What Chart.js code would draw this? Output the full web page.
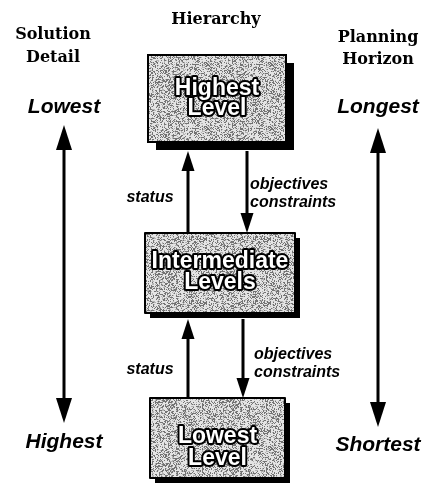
<!DOCTYPE html>
<html lang="en">
<head>
    <meta charset="UTF-8">
    <title>Hierarchy</title>
    <script src="https://cdn.jsdelivr.net/npm/chart.js"></script>
    <style>
        body { margin: 0; background: #fff; }
        .wrap { width: 424px; height: 493px; }
    </style>
</head>
<body>
    <div class="wrap"><canvas id="chart"></canvas></div>

    <script>
        // diagram content
        const headers = [["Solution", "Detail"], ["Hierarchy"], ["Planning", "Horizon"]];
        const levelNames = [["Highest", "Level"], ["Intermediate", "Levels"], ["Lowest", "Level"]];
        const detailEnds = ["Lowest", "Highest"];
        const horizonEnds = ["Longest", "Shortest"];
        const upLabel = ["status"];
        const downLabel = ["objectives", "constraints"];

        // layout in page units (x: 0-424, y: 0-493 downwards)
        const headerPos = [[53, [35, 58]], [216, [20]], [378, [38, 60]]];
        const boxPos = [
            { x0: 148, y0: 55, x1: 286, y1: 142, sh: 8, ty: [89, 109] },
            { x0: 145, y0: 233, x1: 295, y1: 313, sh: 5, ty: [262, 283] },
            { x0: 150, y0: 398, x1: 285, y1: 478, sh: 5, ty: [437, 459] }
        ];
        const sideArrows = [
            { x: 64, top: 125, bottom: 423, labels: [107, 442] },
            { x: 378, top: 128, bottom: 427, labels: [107, 445] }
        ];
        const linkArrows = [
            { up: 188, down: 247, y0: 151, y1: 233, status: [150, 198], obj: [250, 185, 203] },
            { up: 188, down: 243, y0: 319, y1: 398, status: [150, 370], obj: [254, 355, 373] }
        ];

        // speckled grey fill like the scanned boxes
        function makeTexture(ctx) {
            const c = document.createElement("canvas");
            c.width = 64; c.height = 64;
            const g = c.getContext("2d");
            const img = g.createImageData(64, 64);
            for (let j = 0; j < 64; j++) {
                for (let i = 0; i < 64; i++) {
                    const h = ((i * 374761393 + j * 668265263) ^ (i * j * 2246822519)) >>> 0;
                    const v = ((h ^ (h >>> 13)) * 1274126177 >>> 0) % 100;
                    const k = (j * 64 + i) * 4;
                    const shade = v < 26 ? 115 : (v < 44 ? 180 : 228);
                    img.data[k] = img.data[k + 1] = img.data[k + 2] = shade;
                    img.data[k + 3] = 255;
                }
            }
            g.putImageData(img, 0, 0);
            return ctx.createPattern(c, "repeat");
        }

        function arrowHead(ctx, x, tip, dir, len, w) {
            ctx.beginPath();
            ctx.moveTo(x, tip);
            ctx.lineTo(x - w / 2, tip + dir * len);
            ctx.lineTo(x + w / 2, tip + dir * len);
            ctx.closePath();
            ctx.fill();
        }

        const diagram = {
            id: "diagram",
            afterDraw(chart) {
                const ctx = chart.ctx;
                const X = v => chart.scales.x.getPixelForValue(v);
                const Y = v => chart.scales.y.getPixelForValue(v);
                ctx.save();
                ctx.fillStyle = "#000";
                ctx.strokeStyle = "#000";
                ctx.textAlign = "center";
                ctx.textBaseline = "middle";

                // column headers
                ctx.font = "bold 16px 'DejaVu Serif'";
                headers.forEach((lines, i) => {
                    lines.forEach((t, k) => ctx.fillText(t, X(headerPos[i][0]), Y(headerPos[i][1][k])));
                });

                // long double arrows on both sides
                sideArrows.forEach((a, i) => {
                    ctx.fillRect(X(a.x) - 1.5, Y(a.top) + 20, 3, Y(a.bottom) - Y(a.top) - 40);
                    arrowHead(ctx, X(a.x), Y(a.top), 1, 25, 16);
                    arrowHead(ctx, X(a.x), Y(a.bottom), -1, 25, 16);
                    const ends = i === 0 ? detailEnds : horizonEnds;
                    ctx.font = "italic bold 21px 'Liberation Sans'";
                    ctx.fillText(ends[0], X(a.x), Y(a.labels[0]));
                    ctx.fillText(ends[1], X(a.x), Y(a.labels[1]));
                });

                // status / objectives arrows between the levels
                linkArrows.forEach(a => {
                    ctx.fillRect(X(a.up) - 1.5, Y(a.y0) + 15, 3, Y(a.y1) - Y(a.y0) - 15);
                    arrowHead(ctx, X(a.up), Y(a.y0), 1, 20, 13);
                    ctx.fillRect(X(a.down) - 1.5, Y(a.y0), 3, Y(a.y1) - Y(a.y0) - 15);
                    arrowHead(ctx, X(a.down), Y(a.y1), -1, 20, 13);
                    ctx.font = "italic bold 16px 'Liberation Sans'";
                    ctx.textAlign = "center";
                    ctx.fillText(upLabel[0], X(a.status[0]), Y(a.status[1]));
                    ctx.textAlign = "left";
                    ctx.fillText(downLabel[0], X(a.obj[0]), Y(a.obj[1]));
                    ctx.fillText(downLabel[1], X(a.obj[0]), Y(a.obj[2]));
                    ctx.textAlign = "center";
                });

                // level boxes
                const tex = makeTexture(ctx);
                boxPos.forEach((b, i) => {
                    const x0 = X(b.x0), y0 = Y(b.y0), x1 = X(b.x1), y1 = Y(b.y1);
                    ctx.fillStyle = "#000";
                    ctx.fillRect(x0 + b.sh, y0 + b.sh, x1 - x0, y1 - y0);
                    ctx.fillStyle = tex;
                    ctx.fillRect(x0, y0, x1 - x0, y1 - y0);
                    ctx.lineWidth = 2;
                    ctx.strokeRect(x0, y0, x1 - x0, y1 - y0);

                    ctx.font = "bold 23px 'Liberation Sans'";
                    ctx.lineWidth = 4;
                    ctx.lineJoin = "round";
                    ctx.fillStyle = "#fff";
                    levelNames[i].forEach((t, k) => {
                        const cx = (x0 + x1) / 2, cy = Y(b.ty[k]);
                        ctx.strokeText(t, cx, cy);
                        ctx.fillText(t, cx, cy);
                    });
                });
                ctx.restore();
            }
        };

        new Chart(document.getElementById("chart"), {
            type: "scatter",
            data: { datasets: [{ data: [] }] },
            options: {
                responsive: true,
                maintainAspectRatio: false,
                animation: false,
                layout: { padding: 0 },
                plugins: { legend: { display: false }, tooltip: { enabled: false } },
                scales: {
                    x: { type: "linear", min: 0, max: 424, display: false },
                    y: { type: "linear", min: 0, max: 493, reverse: true, display: false }
                }
            },
            plugins: [diagram]
        });
    </script>
</body>
</html>
